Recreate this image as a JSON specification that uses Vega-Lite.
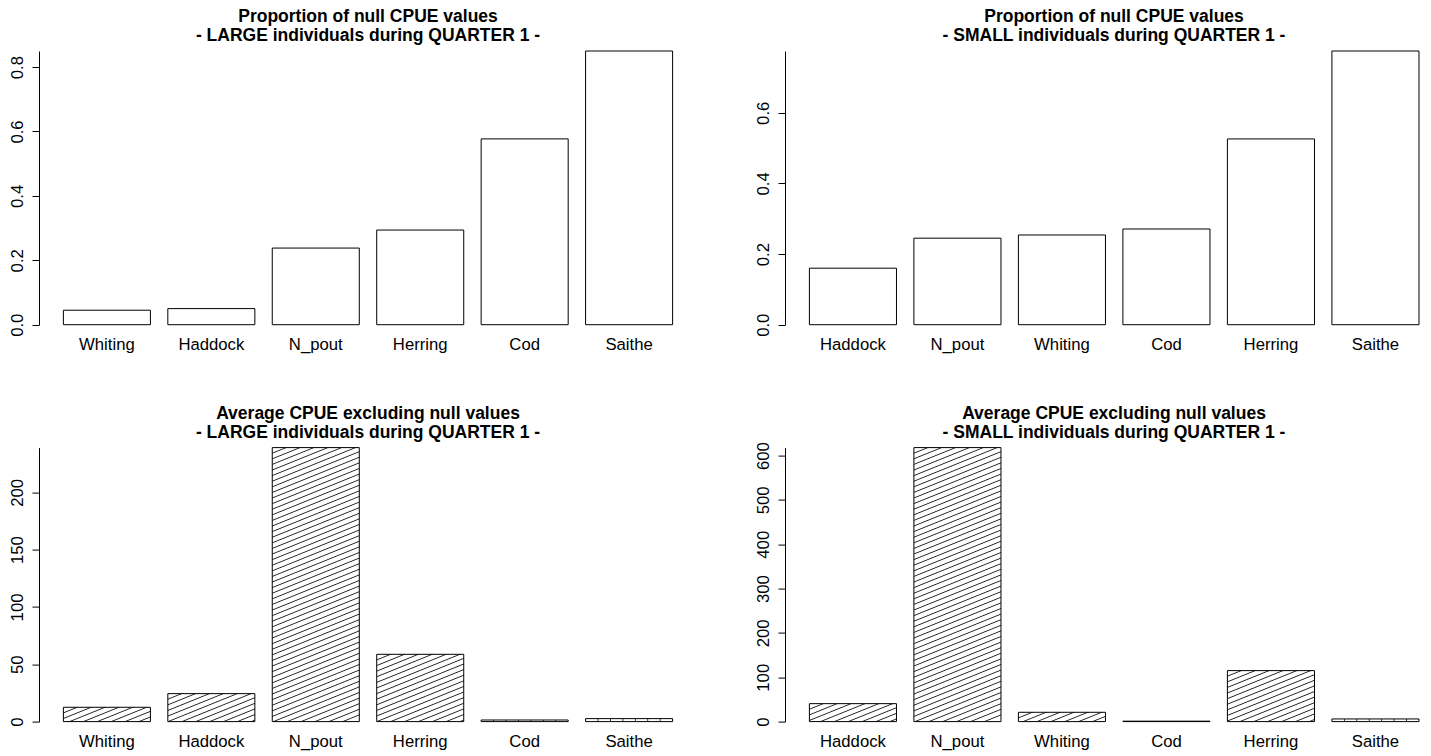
{
  "$schema": "https://vega.github.io/schema/vega-lite/v6.json",
  "background": "white",
  "padding": {"left": 9, "top": 8, "right": 0, "bottom": 0},
  "config": {
    "view": {"stroke": null},
    "font": "Liberation Sans",
    "title": {"font": "Liberation Sans", "fontSize": 17.5, "fontWeight": "bold", "lineHeight": 19, "offset": 6, "frame": "group", "color": "black", "anchor": "middle"},
    "axis": {"labelFont": "Liberation Sans", "labelFontSize": 16.7, "labelColor": "black", "domainColor": "black", "tickColor": "black", "tickSize": 7, "grid": false}
  },
  "columns": 2,
  "spacing": {"row": 122.6, "column": 88},
  "bounds": "flush",
  "concat": [
        {
          "width": 658, "height": 273.7,
          "title": {"text": ["Proportion of null CPUE values", "- LARGE individuals during QUARTER 1 -"]},
          "data": {"values": [
            {"species": "Whiting", "value": 0.045},
            {"species": "Haddock", "value": 0.05},
            {"species": "N_pout", "value": 0.238},
            {"species": "Herring", "value": 0.294},
            {"species": "Cod", "value": 0.577},
            {"species": "Saithe", "value": 0.85}
          ]},
          "mark": {"type": "bar", "fill": "white", "stroke": "black", "strokeWidth": 1},
          "encoding": {
            "x": {"field": "species", "type": "nominal", "sort": null, "scale": {"paddingInner": 0.1667, "paddingOuter": 0.2335}, "axis": {"title": null, "domain": false, "ticks": false, "labelAngle": 0, "labelPadding": 12}},
            "y": {"field": "value", "type": "quantitative", "scale": {"domain": [0, 0.85], "nice": false}, "axis": {"title": null, "values": [0, 0.2, 0.4, 0.6, 0.8], "format": ".1f", "labelAngle": -90, "labelPadding": 6}}
          }
        },
        {
          "width": 644, "height": 273.7,
          "title": {"text": ["Proportion of null CPUE values", "- SMALL individuals during QUARTER 1 -"], "dx": 7},
          "data": {"values": [
            {"species": "Haddock", "value": 0.16},
            {"species": "N_pout", "value": 0.245},
            {"species": "Whiting", "value": 0.254},
            {"species": "Cod", "value": 0.271},
            {"species": "Herring", "value": 0.526},
            {"species": "Saithe", "value": 0.775}
          ]},
          "mark": {"type": "bar", "fill": "white", "stroke": "black", "strokeWidth": 1},
          "encoding": {
            "x": {"field": "species", "type": "nominal", "sort": null, "scale": {"paddingInner": 0.1667, "paddingOuter": 0.1646, "align": 0.709}, "axis": {"title": null, "domain": false, "ticks": false, "labelAngle": 0, "labelPadding": 12}},
            "y": {"field": "value", "type": "quantitative", "scale": {"domain": [0, 0.775], "nice": false}, "axis": {"title": null, "values": [0, 0.2, 0.4, 0.6], "format": ".1f", "labelAngle": -90, "labelPadding": 6}}
          }
        },
        {
          "width": 658, "height": 274,
          "title": {"text": ["Average CPUE excluding null values", "- LARGE individuals during QUARTER 1 -"]},
          "data": {"values": [
            {"species": "Whiting", "value": 12.5},
            {"species": "Haddock", "value": 24.4},
            {"species": "N_pout", "value": 239},
            {"species": "Herring", "value": 58.7},
            {"species": "Cod", "value": 1.4},
            {"species": "Saithe", "value": 2.6}
          ]},
          "mark": {"type": "bar", "stroke": "black", "strokeWidth": 1},
          "encoding": {
            "x": {"field": "species", "type": "nominal", "sort": null, "scale": {"paddingInner": 0.1667, "paddingOuter": 0.2335}, "axis": {"title": null, "domain": false, "ticks": false, "labelAngle": 0, "labelPadding": 12}},
            "y": {"field": "value", "type": "quantitative", "scale": {"domain": [0, 239], "nice": false}, "axis": {"title": null, "values": [0, 50, 100, 150, 200], "labelAngle": -90, "labelPadding": 6}},
            "fill": {
              "condition": [
                {"test": "datum.species === 'Whiting'", "value": {"gradient": "linear", "x1": 0, "y1": 0, "x2": 1.2069, "y2": 0.4915, "stops": [
                  {"offset":0.0937,"color":"#fff"},{"offset":0.1133,"color":"#222"},{"offset":0.1329,"color":"#fff"},
                  {"offset":0.2069,"color":"#fff"},{"offset":0.2265,"color":"#222"},{"offset":0.2461,"color":"#fff"},
                  {"offset":0.3202,"color":"#fff"},{"offset":0.3398,"color":"#222"},{"offset":0.3594,"color":"#fff"},
                  {"offset":0.4334,"color":"#fff"},{"offset":0.4530,"color":"#222"},{"offset":0.4726,"color":"#fff"},
                  {"offset":0.5467,"color":"#fff"},{"offset":0.5663,"color":"#222"},{"offset":0.5859,"color":"#fff"},
                  {"offset":0.6599,"color":"#fff"},{"offset":0.6795,"color":"#222"},{"offset":0.6991,"color":"#fff"},
                  {"offset":0.7732,"color":"#fff"},{"offset":0.7928,"color":"#222"},{"offset":0.8124,"color":"#fff"},
                  {"offset":0.8864,"color":"#fff"},{"offset":0.9060,"color":"#222"},{"offset":0.9256,"color":"#fff"}
                ]}},
                {"test": "datum.species === 'Haddock'", "value": {"gradient": "linear", "x1": 0, "y1": 0, "x2": 1.0999, "y2": 0.8741, "stops": [
                  {"offset":0.0734,"color":"#fff"},{"offset":0.0888,"color":"#222"},{"offset":0.1042,"color":"#fff"},
                  {"offset":0.1622,"color":"#fff"},{"offset":0.1776,"color":"#222"},{"offset":0.1930,"color":"#fff"},
                  {"offset":0.2510,"color":"#fff"},{"offset":0.2664,"color":"#222"},{"offset":0.2818,"color":"#fff"},
                  {"offset":0.3398,"color":"#fff"},{"offset":0.3552,"color":"#222"},{"offset":0.3706,"color":"#fff"},
                  {"offset":0.4287,"color":"#fff"},{"offset":0.4441,"color":"#222"},{"offset":0.4595,"color":"#fff"},
                  {"offset":0.5175,"color":"#fff"},{"offset":0.5329,"color":"#222"},{"offset":0.5483,"color":"#fff"},
                  {"offset":0.6063,"color":"#fff"},{"offset":0.6217,"color":"#222"},{"offset":0.6371,"color":"#fff"},
                  {"offset":0.6951,"color":"#fff"},{"offset":0.7105,"color":"#222"},{"offset":0.7259,"color":"#fff"},
                  {"offset":0.7839,"color":"#fff"},{"offset":0.7993,"color":"#222"},{"offset":0.8147,"color":"#fff"},
                  {"offset":0.8727,"color":"#fff"},{"offset":0.8881,"color":"#222"},{"offset":0.9035,"color":"#fff"},
                  {"offset":0.9615,"color":"#fff"},{"offset":0.9769,"color":"#222"},{"offset":0.9923,"color":"#fff"}
                ]}},
                {"test": "datum.species === 'N_pout'", "value": {"gradient": "linear", "x1": 0, "y1": 0, "x2": 0.1424, "y2": 1.1100, "stops": [
                  {"offset":0.0150,"color":"#fff"},{"offset":0.0181,"color":"#222"},{"offset":0.0212,"color":"#fff"},
                  {"offset":0.0331,"color":"#fff"},{"offset":0.0362,"color":"#222"},{"offset":0.0393,"color":"#fff"},
                  {"offset":0.0512,"color":"#fff"},{"offset":0.0543,"color":"#222"},{"offset":0.0574,"color":"#fff"},
                  {"offset":0.0694,"color":"#fff"},{"offset":0.0725,"color":"#222"},{"offset":0.0756,"color":"#fff"},
                  {"offset":0.0875,"color":"#fff"},{"offset":0.0906,"color":"#222"},{"offset":0.0937,"color":"#fff"},
                  {"offset":0.1056,"color":"#fff"},{"offset":0.1087,"color":"#222"},{"offset":0.1118,"color":"#fff"},
                  {"offset":0.1237,"color":"#fff"},{"offset":0.1268,"color":"#222"},{"offset":0.1299,"color":"#fff"},
                  {"offset":0.1418,"color":"#fff"},{"offset":0.1449,"color":"#222"},{"offset":0.1480,"color":"#fff"},
                  {"offset":0.1599,"color":"#fff"},{"offset":0.1630,"color":"#222"},{"offset":0.1661,"color":"#fff"},
                  {"offset":0.1781,"color":"#fff"},{"offset":0.1812,"color":"#222"},{"offset":0.1843,"color":"#fff"},
                  {"offset":0.1962,"color":"#fff"},{"offset":0.1993,"color":"#222"},{"offset":0.2024,"color":"#fff"},
                  {"offset":0.2143,"color":"#fff"},{"offset":0.2174,"color":"#222"},{"offset":0.2205,"color":"#fff"},
                  {"offset":0.2324,"color":"#fff"},{"offset":0.2355,"color":"#222"},{"offset":0.2386,"color":"#fff"},
                  {"offset":0.2505,"color":"#fff"},{"offset":0.2536,"color":"#222"},{"offset":0.2567,"color":"#fff"},
                  {"offset":0.2686,"color":"#fff"},{"offset":0.2717,"color":"#222"},{"offset":0.2748,"color":"#fff"},
                  {"offset":0.2868,"color":"#fff"},{"offset":0.2899,"color":"#222"},{"offset":0.2930,"color":"#fff"},
                  {"offset":0.3049,"color":"#fff"},{"offset":0.3080,"color":"#222"},{"offset":0.3111,"color":"#fff"},
                  {"offset":0.3230,"color":"#fff"},{"offset":0.3261,"color":"#222"},{"offset":0.3292,"color":"#fff"},
                  {"offset":0.3411,"color":"#fff"},{"offset":0.3442,"color":"#222"},{"offset":0.3473,"color":"#fff"},
                  {"offset":0.3592,"color":"#fff"},{"offset":0.3623,"color":"#222"},{"offset":0.3654,"color":"#fff"},
                  {"offset":0.3773,"color":"#fff"},{"offset":0.3804,"color":"#222"},{"offset":0.3835,"color":"#fff"},
                  {"offset":0.3955,"color":"#fff"},{"offset":0.3986,"color":"#222"},{"offset":0.4017,"color":"#fff"},
                  {"offset":0.4136,"color":"#fff"},{"offset":0.4167,"color":"#222"},{"offset":0.4198,"color":"#fff"},
                  {"offset":0.4317,"color":"#fff"},{"offset":0.4348,"color":"#222"},{"offset":0.4379,"color":"#fff"},
                  {"offset":0.4498,"color":"#fff"},{"offset":0.4529,"color":"#222"},{"offset":0.4560,"color":"#fff"},
                  {"offset":0.4679,"color":"#fff"},{"offset":0.4710,"color":"#222"},{"offset":0.4741,"color":"#fff"},
                  {"offset":0.4860,"color":"#fff"},{"offset":0.4891,"color":"#222"},{"offset":0.4922,"color":"#fff"},
                  {"offset":0.5041,"color":"#fff"},{"offset":0.5072,"color":"#222"},{"offset":0.5103,"color":"#fff"},
                  {"offset":0.5223,"color":"#fff"},{"offset":0.5254,"color":"#222"},{"offset":0.5285,"color":"#fff"},
                  {"offset":0.5404,"color":"#fff"},{"offset":0.5435,"color":"#222"},{"offset":0.5466,"color":"#fff"},
                  {"offset":0.5585,"color":"#fff"},{"offset":0.5616,"color":"#222"},{"offset":0.5647,"color":"#fff"},
                  {"offset":0.5766,"color":"#fff"},{"offset":0.5797,"color":"#222"},{"offset":0.5828,"color":"#fff"},
                  {"offset":0.5947,"color":"#fff"},{"offset":0.5978,"color":"#222"},{"offset":0.6009,"color":"#fff"},
                  {"offset":0.6128,"color":"#fff"},{"offset":0.6159,"color":"#222"},{"offset":0.6190,"color":"#fff"},
                  {"offset":0.6310,"color":"#fff"},{"offset":0.6341,"color":"#222"},{"offset":0.6372,"color":"#fff"},
                  {"offset":0.6491,"color":"#fff"},{"offset":0.6522,"color":"#222"},{"offset":0.6553,"color":"#fff"},
                  {"offset":0.6672,"color":"#fff"},{"offset":0.6703,"color":"#222"},{"offset":0.6734,"color":"#fff"},
                  {"offset":0.6853,"color":"#fff"},{"offset":0.6884,"color":"#222"},{"offset":0.6915,"color":"#fff"},
                  {"offset":0.7034,"color":"#fff"},{"offset":0.7065,"color":"#222"},{"offset":0.7096,"color":"#fff"},
                  {"offset":0.7215,"color":"#fff"},{"offset":0.7246,"color":"#222"},{"offset":0.7277,"color":"#fff"},
                  {"offset":0.7397,"color":"#fff"},{"offset":0.7428,"color":"#222"},{"offset":0.7459,"color":"#fff"},
                  {"offset":0.7578,"color":"#fff"},{"offset":0.7609,"color":"#222"},{"offset":0.7640,"color":"#fff"},
                  {"offset":0.7759,"color":"#fff"},{"offset":0.7790,"color":"#222"},{"offset":0.7821,"color":"#fff"},
                  {"offset":0.7940,"color":"#fff"},{"offset":0.7971,"color":"#222"},{"offset":0.8002,"color":"#fff"},
                  {"offset":0.8121,"color":"#fff"},{"offset":0.8152,"color":"#222"},{"offset":0.8183,"color":"#fff"},
                  {"offset":0.8302,"color":"#fff"},{"offset":0.8333,"color":"#222"},{"offset":0.8364,"color":"#fff"},
                  {"offset":0.8484,"color":"#fff"},{"offset":0.8515,"color":"#222"},{"offset":0.8546,"color":"#fff"},
                  {"offset":0.8665,"color":"#fff"},{"offset":0.8696,"color":"#222"},{"offset":0.8727,"color":"#fff"},
                  {"offset":0.8846,"color":"#fff"},{"offset":0.8877,"color":"#222"},{"offset":0.8908,"color":"#fff"},
                  {"offset":0.9027,"color":"#fff"},{"offset":0.9058,"color":"#222"},{"offset":0.9089,"color":"#fff"},
                  {"offset":0.9208,"color":"#fff"},{"offset":0.9239,"color":"#222"},{"offset":0.9270,"color":"#fff"},
                  {"offset":0.9389,"color":"#fff"},{"offset":0.9420,"color":"#222"},{"offset":0.9451,"color":"#fff"},
                  {"offset":0.9571,"color":"#fff"},{"offset":0.9602,"color":"#222"},{"offset":0.9633,"color":"#fff"},
                  {"offset":0.9752,"color":"#fff"},{"offset":0.9783,"color":"#222"},{"offset":0.9814,"color":"#fff"}
                ]}},
                {"test": "datum.species === 'Herring'", "value": {"gradient": "linear", "x1": 0, "y1": 0, "x2": 0.6255, "y2": 1.1960, "stops": [
                  {"offset":0.0452,"color":"#fff"},{"offset":0.0547,"color":"#222"},{"offset":0.0642,"color":"#fff"},
                  {"offset":0.1000,"color":"#fff"},{"offset":0.1095,"color":"#222"},{"offset":0.1190,"color":"#fff"},
                  {"offset":0.1547,"color":"#fff"},{"offset":0.1642,"color":"#222"},{"offset":0.1737,"color":"#fff"},
                  {"offset":0.2094,"color":"#fff"},{"offset":0.2189,"color":"#222"},{"offset":0.2284,"color":"#fff"},
                  {"offset":0.2642,"color":"#fff"},{"offset":0.2737,"color":"#222"},{"offset":0.2832,"color":"#fff"},
                  {"offset":0.3189,"color":"#fff"},{"offset":0.3284,"color":"#222"},{"offset":0.3379,"color":"#fff"},
                  {"offset":0.3736,"color":"#fff"},{"offset":0.3831,"color":"#222"},{"offset":0.3926,"color":"#fff"},
                  {"offset":0.4283,"color":"#fff"},{"offset":0.4378,"color":"#222"},{"offset":0.4473,"color":"#fff"},
                  {"offset":0.4831,"color":"#fff"},{"offset":0.4926,"color":"#222"},{"offset":0.5021,"color":"#fff"},
                  {"offset":0.5378,"color":"#fff"},{"offset":0.5473,"color":"#222"},{"offset":0.5568,"color":"#fff"},
                  {"offset":0.5925,"color":"#fff"},{"offset":0.6020,"color":"#222"},{"offset":0.6115,"color":"#fff"},
                  {"offset":0.6473,"color":"#fff"},{"offset":0.6568,"color":"#222"},{"offset":0.6663,"color":"#fff"},
                  {"offset":0.7020,"color":"#fff"},{"offset":0.7115,"color":"#222"},{"offset":0.7210,"color":"#fff"},
                  {"offset":0.7567,"color":"#fff"},{"offset":0.7662,"color":"#222"},{"offset":0.7757,"color":"#fff"},
                  {"offset":0.8115,"color":"#fff"},{"offset":0.8210,"color":"#222"},{"offset":0.8305,"color":"#fff"},
                  {"offset":0.8662,"color":"#fff"},{"offset":0.8757,"color":"#222"},{"offset":0.8852,"color":"#fff"},
                  {"offset":0.9209,"color":"#fff"},{"offset":0.9304,"color":"#222"},{"offset":0.9399,"color":"#fff"},
                  {"offset":0.9756,"color":"#fff"},{"offset":0.9851,"color":"#222"},{"offset":0.9946,"color":"#fff"}
                ]}},
                {"test": "datum.species === 'Cod' || datum.species === 'Saithe'", "value": {"gradient": "linear", "x1": 0, "y1": 0, "x2": 1, "y2": 0, "stops": [
                  {"offset":0.1326,"color":"#fff"},{"offset":0.1429,"color":"#222"},{"offset":0.1532,"color":"#fff"},
                  {"offset":0.2754,"color":"#fff"},{"offset":0.2857,"color":"#222"},{"offset":0.2960,"color":"#fff"},
                  {"offset":0.4183,"color":"#fff"},{"offset":0.4286,"color":"#222"},{"offset":0.4389,"color":"#fff"},
                  {"offset":0.5611,"color":"#fff"},{"offset":0.5714,"color":"#222"},{"offset":0.5817,"color":"#fff"},
                  {"offset":0.7040,"color":"#fff"},{"offset":0.7143,"color":"#222"},{"offset":0.7246,"color":"#fff"},
                  {"offset":0.8468,"color":"#fff"},{"offset":0.8571,"color":"#222"},{"offset":0.8674,"color":"#fff"}
                ]}}
              ],
              "value": "white"
            }
          }
        },
        {
          "width": 644, "height": 274,
          "title": {"text": ["Average CPUE excluding null values", "- SMALL individuals during QUARTER 1 -"], "dx": 7, "offset": 0},
          "data": {"values": [
            {"species": "Haddock", "value": 40.5},
            {"species": "N_pout", "value": 618},
            {"species": "Whiting", "value": 21},
            {"species": "Cod", "value": 1},
            {"species": "Herring", "value": 115},
            {"species": "Saithe", "value": 6}
          ]},
          "mark": {"type": "bar", "stroke": "black", "strokeWidth": 1},
          "encoding": {
            "x": {"field": "species", "type": "nominal", "sort": null, "scale": {"paddingInner": 0.1667, "paddingOuter": 0.1646, "align": 0.709}, "axis": {"title": null, "domain": false, "ticks": false, "labelAngle": 0, "labelPadding": 12}},
            "y": {"field": "value", "type": "quantitative", "scale": {"domain": [0, 618], "nice": false}, "axis": {"title": null, "values": [0, 100, 200, 300, 400, 500, 600], "labelAngle": -90, "labelPadding": 6}},
            "fill": {
              "condition": [
                {"test": "datum.species === 'Haddock'", "value": {"gradient": "linear", "x1": 0, "y1": 0, "x2": 1.1982, "y2": 0.6121, "stops": [
                  {"offset":0.0872,"color":"#fff"},{"offset":0.1055,"color":"#222"},{"offset":0.1238,"color":"#fff"},
                  {"offset":0.1927,"color":"#fff"},{"offset":0.2110,"color":"#222"},{"offset":0.2293,"color":"#fff"},
                  {"offset":0.2982,"color":"#fff"},{"offset":0.3165,"color":"#222"},{"offset":0.3348,"color":"#fff"},
                  {"offset":0.4036,"color":"#fff"},{"offset":0.4219,"color":"#222"},{"offset":0.4402,"color":"#fff"},
                  {"offset":0.5091,"color":"#fff"},{"offset":0.5274,"color":"#222"},{"offset":0.5457,"color":"#fff"},
                  {"offset":0.6146,"color":"#fff"},{"offset":0.6329,"color":"#222"},{"offset":0.6512,"color":"#fff"},
                  {"offset":0.7201,"color":"#fff"},{"offset":0.7384,"color":"#222"},{"offset":0.7567,"color":"#fff"},
                  {"offset":0.8256,"color":"#fff"},{"offset":0.8439,"color":"#222"},{"offset":0.8622,"color":"#fff"},
                  {"offset":0.9311,"color":"#fff"},{"offset":0.9494,"color":"#222"},{"offset":0.9677,"color":"#fff"}
                ]}},
                {"test": "datum.species === 'N_pout'", "value": {"gradient": "linear", "x1": 0, "y1": 0, "x2": 0.1424, "y2": 1.1100, "stops": [
                  {"offset":0.0150,"color":"#fff"},{"offset":0.0181,"color":"#222"},{"offset":0.0212,"color":"#fff"},
                  {"offset":0.0331,"color":"#fff"},{"offset":0.0362,"color":"#222"},{"offset":0.0393,"color":"#fff"},
                  {"offset":0.0512,"color":"#fff"},{"offset":0.0543,"color":"#222"},{"offset":0.0574,"color":"#fff"},
                  {"offset":0.0694,"color":"#fff"},{"offset":0.0725,"color":"#222"},{"offset":0.0756,"color":"#fff"},
                  {"offset":0.0875,"color":"#fff"},{"offset":0.0906,"color":"#222"},{"offset":0.0937,"color":"#fff"},
                  {"offset":0.1056,"color":"#fff"},{"offset":0.1087,"color":"#222"},{"offset":0.1118,"color":"#fff"},
                  {"offset":0.1237,"color":"#fff"},{"offset":0.1268,"color":"#222"},{"offset":0.1299,"color":"#fff"},
                  {"offset":0.1418,"color":"#fff"},{"offset":0.1449,"color":"#222"},{"offset":0.1480,"color":"#fff"},
                  {"offset":0.1599,"color":"#fff"},{"offset":0.1630,"color":"#222"},{"offset":0.1661,"color":"#fff"},
                  {"offset":0.1781,"color":"#fff"},{"offset":0.1812,"color":"#222"},{"offset":0.1843,"color":"#fff"},
                  {"offset":0.1962,"color":"#fff"},{"offset":0.1993,"color":"#222"},{"offset":0.2024,"color":"#fff"},
                  {"offset":0.2143,"color":"#fff"},{"offset":0.2174,"color":"#222"},{"offset":0.2205,"color":"#fff"},
                  {"offset":0.2324,"color":"#fff"},{"offset":0.2355,"color":"#222"},{"offset":0.2386,"color":"#fff"},
                  {"offset":0.2505,"color":"#fff"},{"offset":0.2536,"color":"#222"},{"offset":0.2567,"color":"#fff"},
                  {"offset":0.2686,"color":"#fff"},{"offset":0.2717,"color":"#222"},{"offset":0.2748,"color":"#fff"},
                  {"offset":0.2868,"color":"#fff"},{"offset":0.2899,"color":"#222"},{"offset":0.2930,"color":"#fff"},
                  {"offset":0.3049,"color":"#fff"},{"offset":0.3080,"color":"#222"},{"offset":0.3111,"color":"#fff"},
                  {"offset":0.3230,"color":"#fff"},{"offset":0.3261,"color":"#222"},{"offset":0.3292,"color":"#fff"},
                  {"offset":0.3411,"color":"#fff"},{"offset":0.3442,"color":"#222"},{"offset":0.3473,"color":"#fff"},
                  {"offset":0.3592,"color":"#fff"},{"offset":0.3623,"color":"#222"},{"offset":0.3654,"color":"#fff"},
                  {"offset":0.3773,"color":"#fff"},{"offset":0.3804,"color":"#222"},{"offset":0.3835,"color":"#fff"},
                  {"offset":0.3955,"color":"#fff"},{"offset":0.3986,"color":"#222"},{"offset":0.4017,"color":"#fff"},
                  {"offset":0.4136,"color":"#fff"},{"offset":0.4167,"color":"#222"},{"offset":0.4198,"color":"#fff"},
                  {"offset":0.4317,"color":"#fff"},{"offset":0.4348,"color":"#222"},{"offset":0.4379,"color":"#fff"},
                  {"offset":0.4498,"color":"#fff"},{"offset":0.4529,"color":"#222"},{"offset":0.4560,"color":"#fff"},
                  {"offset":0.4679,"color":"#fff"},{"offset":0.4710,"color":"#222"},{"offset":0.4741,"color":"#fff"},
                  {"offset":0.4860,"color":"#fff"},{"offset":0.4891,"color":"#222"},{"offset":0.4922,"color":"#fff"},
                  {"offset":0.5041,"color":"#fff"},{"offset":0.5072,"color":"#222"},{"offset":0.5103,"color":"#fff"},
                  {"offset":0.5223,"color":"#fff"},{"offset":0.5254,"color":"#222"},{"offset":0.5285,"color":"#fff"},
                  {"offset":0.5404,"color":"#fff"},{"offset":0.5435,"color":"#222"},{"offset":0.5466,"color":"#fff"},
                  {"offset":0.5585,"color":"#fff"},{"offset":0.5616,"color":"#222"},{"offset":0.5647,"color":"#fff"},
                  {"offset":0.5766,"color":"#fff"},{"offset":0.5797,"color":"#222"},{"offset":0.5828,"color":"#fff"},
                  {"offset":0.5947,"color":"#fff"},{"offset":0.5978,"color":"#222"},{"offset":0.6009,"color":"#fff"},
                  {"offset":0.6128,"color":"#fff"},{"offset":0.6159,"color":"#222"},{"offset":0.6190,"color":"#fff"},
                  {"offset":0.6310,"color":"#fff"},{"offset":0.6341,"color":"#222"},{"offset":0.6372,"color":"#fff"},
                  {"offset":0.6491,"color":"#fff"},{"offset":0.6522,"color":"#222"},{"offset":0.6553,"color":"#fff"},
                  {"offset":0.6672,"color":"#fff"},{"offset":0.6703,"color":"#222"},{"offset":0.6734,"color":"#fff"},
                  {"offset":0.6853,"color":"#fff"},{"offset":0.6884,"color":"#222"},{"offset":0.6915,"color":"#fff"},
                  {"offset":0.7034,"color":"#fff"},{"offset":0.7065,"color":"#222"},{"offset":0.7096,"color":"#fff"},
                  {"offset":0.7215,"color":"#fff"},{"offset":0.7246,"color":"#222"},{"offset":0.7277,"color":"#fff"},
                  {"offset":0.7397,"color":"#fff"},{"offset":0.7428,"color":"#222"},{"offset":0.7459,"color":"#fff"},
                  {"offset":0.7578,"color":"#fff"},{"offset":0.7609,"color":"#222"},{"offset":0.7640,"color":"#fff"},
                  {"offset":0.7759,"color":"#fff"},{"offset":0.7790,"color":"#222"},{"offset":0.7821,"color":"#fff"},
                  {"offset":0.7940,"color":"#fff"},{"offset":0.7971,"color":"#222"},{"offset":0.8002,"color":"#fff"},
                  {"offset":0.8121,"color":"#fff"},{"offset":0.8152,"color":"#222"},{"offset":0.8183,"color":"#fff"},
                  {"offset":0.8302,"color":"#fff"},{"offset":0.8333,"color":"#222"},{"offset":0.8364,"color":"#fff"},
                  {"offset":0.8484,"color":"#fff"},{"offset":0.8515,"color":"#222"},{"offset":0.8546,"color":"#fff"},
                  {"offset":0.8665,"color":"#fff"},{"offset":0.8696,"color":"#222"},{"offset":0.8727,"color":"#fff"},
                  {"offset":0.8846,"color":"#fff"},{"offset":0.8877,"color":"#222"},{"offset":0.8908,"color":"#fff"},
                  {"offset":0.9027,"color":"#fff"},{"offset":0.9058,"color":"#222"},{"offset":0.9089,"color":"#fff"},
                  {"offset":0.9208,"color":"#fff"},{"offset":0.9239,"color":"#222"},{"offset":0.9270,"color":"#fff"},
                  {"offset":0.9389,"color":"#fff"},{"offset":0.9420,"color":"#222"},{"offset":0.9451,"color":"#fff"},
                  {"offset":0.9571,"color":"#fff"},{"offset":0.9602,"color":"#222"},{"offset":0.9633,"color":"#fff"},
                  {"offset":0.9752,"color":"#fff"},{"offset":0.9783,"color":"#222"},{"offset":0.9814,"color":"#fff"}
                ]}},
                {"test": "datum.species === 'Whiting'", "value": {"gradient": "linear", "x1": 0, "y1": 0, "x2": 1.1819, "y2": 0.3131, "stops": [
                  {"offset":0.1041,"color":"#fff"},{"offset":0.1259,"color":"#222"},{"offset":0.1477,"color":"#fff"},
                  {"offset":0.2301,"color":"#fff"},{"offset":0.2519,"color":"#222"},{"offset":0.2737,"color":"#fff"},
                  {"offset":0.3560,"color":"#fff"},{"offset":0.3778,"color":"#222"},{"offset":0.3996,"color":"#fff"},
                  {"offset":0.4820,"color":"#fff"},{"offset":0.5038,"color":"#222"},{"offset":0.5256,"color":"#fff"},
                  {"offset":0.6079,"color":"#fff"},{"offset":0.6297,"color":"#222"},{"offset":0.6515,"color":"#fff"},
                  {"offset":0.7338,"color":"#fff"},{"offset":0.7556,"color":"#222"},{"offset":0.7774,"color":"#fff"},
                  {"offset":0.8598,"color":"#fff"},{"offset":0.8816,"color":"#222"},{"offset":0.9034,"color":"#fff"}
                ]}},
                {"test": "datum.species === 'Herring'", "value": {"gradient": "linear", "x1": 0, "y1": 0, "x2": 0.7895, "y2": 1.1451, "stops": [
                  {"offset":0.0537,"color":"#fff"},{"offset":0.0650,"color":"#222"},{"offset":0.0763,"color":"#fff"},
                  {"offset":0.1187,"color":"#fff"},{"offset":0.1300,"color":"#222"},{"offset":0.1413,"color":"#fff"},
                  {"offset":0.1838,"color":"#fff"},{"offset":0.1951,"color":"#222"},{"offset":0.2064,"color":"#fff"},
                  {"offset":0.2488,"color":"#fff"},{"offset":0.2601,"color":"#222"},{"offset":0.2714,"color":"#fff"},
                  {"offset":0.3138,"color":"#fff"},{"offset":0.3251,"color":"#222"},{"offset":0.3364,"color":"#fff"},
                  {"offset":0.3788,"color":"#fff"},{"offset":0.3901,"color":"#222"},{"offset":0.4014,"color":"#fff"},
                  {"offset":0.4438,"color":"#fff"},{"offset":0.4551,"color":"#222"},{"offset":0.4664,"color":"#fff"},
                  {"offset":0.5089,"color":"#fff"},{"offset":0.5202,"color":"#222"},{"offset":0.5315,"color":"#fff"},
                  {"offset":0.5739,"color":"#fff"},{"offset":0.5852,"color":"#222"},{"offset":0.5965,"color":"#fff"},
                  {"offset":0.6389,"color":"#fff"},{"offset":0.6502,"color":"#222"},{"offset":0.6615,"color":"#fff"},
                  {"offset":0.7039,"color":"#fff"},{"offset":0.7152,"color":"#222"},{"offset":0.7265,"color":"#fff"},
                  {"offset":0.7689,"color":"#fff"},{"offset":0.7802,"color":"#222"},{"offset":0.7915,"color":"#fff"},
                  {"offset":0.8340,"color":"#fff"},{"offset":0.8453,"color":"#222"},{"offset":0.8566,"color":"#fff"},
                  {"offset":0.8990,"color":"#fff"},{"offset":0.9103,"color":"#222"},{"offset":0.9216,"color":"#fff"},
                  {"offset":0.9640,"color":"#fff"},{"offset":0.9753,"color":"#222"},{"offset":0.9866,"color":"#fff"}
                ]}},
                {"test": "datum.species === 'Cod' || datum.species === 'Saithe'", "value": {"gradient": "linear", "x1": 0, "y1": 0, "x2": 1, "y2": 0, "stops": [
                  {"offset":0.1326,"color":"#fff"},{"offset":0.1429,"color":"#222"},{"offset":0.1532,"color":"#fff"},
                  {"offset":0.2754,"color":"#fff"},{"offset":0.2857,"color":"#222"},{"offset":0.2960,"color":"#fff"},
                  {"offset":0.4183,"color":"#fff"},{"offset":0.4286,"color":"#222"},{"offset":0.4389,"color":"#fff"},
                  {"offset":0.5611,"color":"#fff"},{"offset":0.5714,"color":"#222"},{"offset":0.5817,"color":"#fff"},
                  {"offset":0.7040,"color":"#fff"},{"offset":0.7143,"color":"#222"},{"offset":0.7246,"color":"#fff"},
                  {"offset":0.8468,"color":"#fff"},{"offset":0.8571,"color":"#222"},{"offset":0.8674,"color":"#fff"}
                ]}}
              ],
              "value": "white"
            }
          }
        }
  ]
}
